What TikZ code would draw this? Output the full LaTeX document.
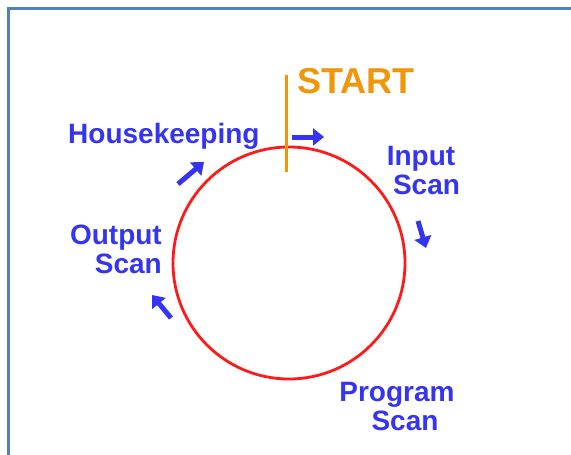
\documentclass[tikz,border=0pt]{standalone}
\usepackage{fontspec}
\setmainfont{Liberation Sans}
\usetikzlibrary{arrows.meta}
\definecolor{frameblue}{HTML}{4F81BD}
\definecolor{labelblue}{HTML}{3434F2}
\definecolor{startorange}{HTML}{F0960A}
\definecolor{cyclered}{HTML}{FF1A1A}
\tikzset{
  phase/.style={text=labelblue, font=\bfseries\fontsize{28}{29}\selectfont, inner sep=0pt},
  flow/.style={draw=labelblue, line width=5pt, -{Triangle[length=11pt,width=17pt]}},
}
\begin{document}
\begin{tikzpicture}[x=1pt,y=-1pt]
  \useasboundingbox (0,0) rectangle (571,455);
  % frame edges
  \draw[frameblue, line width=2.5pt] (8.5,455) -- (8.5,8.5) -- (571,8.5);
  % scan cycle
  \node[circle, draw=cyclered, line width=2.8pt, minimum size=232pt, inner sep=0pt] (cycle) at (289,263) {};
  % start marker
  \coordinate (mtop) at (286,75);
  \coordinate (mbot) at (286,172);
  \draw[startorange, line width=3pt] (mtop) -- (mbot);
  \node[text=startorange, font=\bfseries\fontsize{36}{36}\selectfont, inner sep=0pt, anchor=base west] (start) at (297,93) {START};
  % phase labels
  \node[phase, anchor=base west] (house) at (68,143) {Housekeeping};
  \node[phase, anchor=north, align=center] (input) at (421,146) {Input\\\hspace*{11pt}Scan};
  \node[phase, anchor=north east, align=right] (output) at (162,225) {Output\\Scan};
  \node[phase, anchor=north, align=center] (program) at (397,382) {Program\\\hspace*{16pt}Scan};
  % direction arrows
  \coordinate (a1s) at (292,137); \coordinate (a1e) at (324,137);
  \coordinate (a2s) at (418,221); \coordinate (a2e) at (426,248);
  \coordinate (a3s) at (171,318); \coordinate (a3e) at (152,295);
  \coordinate (a4s) at (178,184); \coordinate (a4e) at (204,162);
  \draw[flow] (a1s) -- (a1e);
  \draw[flow] (a2s) -- (a2e);
  \draw[flow] (a3s) -- (a3e);
  \draw[flow] (a4s) -- (a4e);
\end{tikzpicture}
\end{document}
